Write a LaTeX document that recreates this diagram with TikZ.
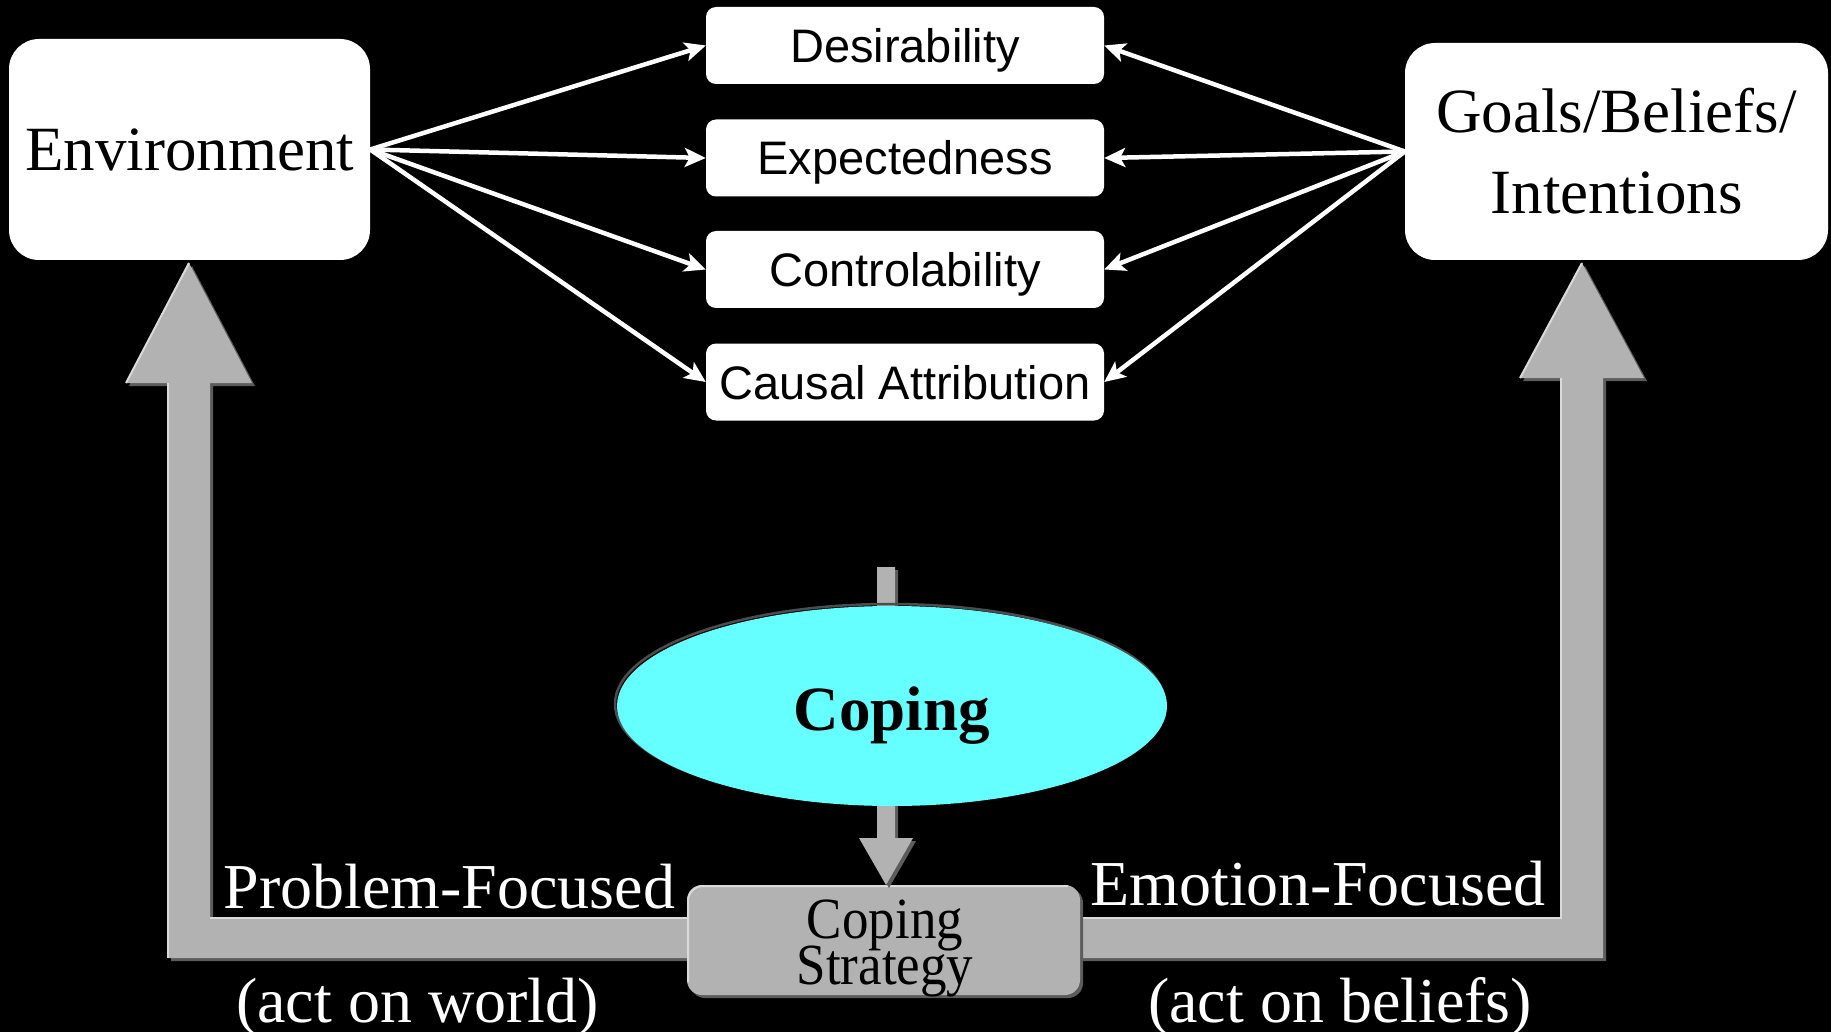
\documentclass[tikz,border=0pt]{standalone}
\usepackage{fontspec}
\usepackage{graphicx}
\setmainfont{Liberation Serif}
\newfontfamily\arialf{Liberation Sans}
\usetikzlibrary{arrows.meta,shapes.geometric}
\definecolor{bodygray}{HTML}{B2B2B2}
\definecolor{shadegray}{HTML}{5C5C5C}
\definecolor{lightgray}{HTML}{DADADA}
\definecolor{copingcyan}{HTML}{66FFFF}
\tikzset{
  bigbox/.style={fill=white, rounded corners=30pt, inner sep=0pt, align=center,
    font=\fontsize{63}{81}\selectfont},
  smallbox/.style={fill=white, rounded corners=10pt, minimum width=398pt, minimum height=77pt,
    inner sep=0pt, font=\arialf\fontsize{47}{56}\selectfont, text height=34pt, text depth=0pt},
  link/.style={draw=white, line width=4.5pt, -{Stealth[length=21pt,width=19pt,inset=5pt]}},
  graybody/.style={fill=bodygray},
  grayshadow/.style={fill=shadegray},
  grayhl/.style={draw=lightgray, line width=2pt},
  wlabel/.style={text=white, inner sep=0pt, anchor=base, font=\fontsize{64}{70}\selectfont},
}
\begin{document}
\begin{tikzpicture}[x=1pt,y=-1pt]
\fill[black] (0,0) rectangle (1831,1032);
\useasboundingbox (0,0) rectangle (1831,1032);

% big L-shaped arrows (shadow, body, highlights)
\begin{scope}[shift={(3,3)}]
  \fill[grayshadow] (687,918) -- (210,918) -- (210,383) -- (252,383) -- (189,263) -- (126,383) -- (168,383) -- (168,958) -- (687,958) -- cycle;
  \fill[grayshadow] (1080,918) -- (1561,918) -- (1561,378) -- (1520,378) -- (1582,263) -- (1644,378) -- (1603,378) -- (1603,958) -- (1080,958) -- cycle;
\end{scope}
\fill[graybody] (687,918) -- (210,918) -- (210,383) -- (252,383) -- (189,263) -- (126,383) -- (168,383) -- (168,958) -- (687,958) -- cycle;
\fill[graybody] (1080,918) -- (1561,918) -- (1561,378) -- (1520,378) -- (1582,263) -- (1644,378) -- (1603,378) -- (1603,958) -- (1080,958) -- cycle;
\draw[grayhl] (126,383) -- (189,263);
\draw[grayhl] (168,383) -- (168,958);
\draw[grayhl] (210,918) -- (687,918);
\draw[grayhl] (1520,378) -- (1582,263);
\draw[grayhl] (1561,378) -- (1561,918) -- (1080,918);

% coping strategy box
\fill[shadegray, rounded corners=15pt] (690,888) rectangle (1083,998);
\node[graybody, rounded corners=15pt, minimum width=393pt, minimum height=110pt, inner sep=0pt] (cs) at (883.5,940) {};
\draw[grayhl, rounded corners=15pt] (688,982) -- (688,886) -- (1068,886);

% vertical arrow into coping strategy
\fill[grayshadow] (880,570) -- (898,570) -- (898,841) -- (916,841) -- (889,888) -- (862,841) -- (880,841) -- cycle;
\fill[graybody] (877,567) -- (895,567) -- (895,838) -- (913,838) -- (886,885) -- (859,838) -- (877,838) -- cycle;

% coping ellipse
\draw[line width=2.5pt, color=black!70] (890,704) ellipse [x radius=275pt, y radius=100pt];
\node[ellipse, fill=copingcyan, minimum width=550pt, minimum height=200pt, inner sep=0pt,
  font=\bfseries\fontsize{63}{70}\selectfont, text height=48pt, text depth=0pt] (coping) at (892,706) {Coping};

% text of the coping strategy box
\node[inner sep=0pt, anchor=base, text=black] (cstext) at (885,984)
  {\scalebox{1}[1.1]{\vbox{\fontsize{53}{41.8}\selectfont\lineskiplimit=-100pt\halign{\hfil#\hfil\cr Coping\cr Strategy\cr}}}};

% top boxes
\node[bigbox, minimum width=361pt, minimum height=221pt] (env) at (189.5,149.5) {Environment};
\node[bigbox, minimum width=423pt, minimum height=217pt] (goals) at (1616.5,151.5) {Goals/Beliefs/\\Intentions};
\node[smallbox] (des) at (905,45.5) {Desirability};
\node[smallbox] (exp) at (905,158) {Expectedness};
\node[smallbox] (con) at (905,269.5) {Controlability};
\node[smallbox] (cau) at (905,382) {Causal Attribution};

% links
\foreach \t in {des,exp,con,cau}{
  \draw[link] (env.east) -- (\t.west);
  \draw[link] (goals.west) -- (\t.east);
}

% labels
\node[wlabel] (pf) at (449.5,908) {Problem-Focused};
\node[wlabel] (aw) at (417.5,1022) {(act on world)};
\node[wlabel] (ef) at (1318,905) {Emotion-Focused};
\node[wlabel] (ab) at (1340,1022) {(act on beliefs)};
\end{tikzpicture}
\end{document}
